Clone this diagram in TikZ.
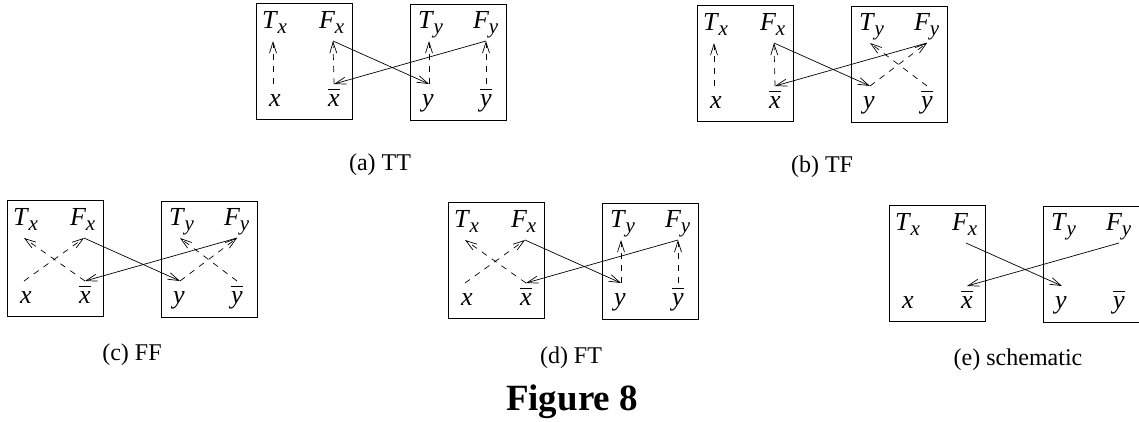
\documentclass[tikz,border=0pt]{standalone}
\usepackage{fontspec}
\setmainfont{Liberation Serif}[ItalicFont={Liberation Serif Italic},BoldFont={Liberation Serif Bold}]
\usetikzlibrary{arrows.meta}
\newcommand\lbl[2]{\textit{#1}\kern-0.5pt\raisebox{-5pt}{\fontsize{21}{21}\selectfont\textit{#2}}}
\newcommand\ovl[1]{\setbox0=\hbox{#1}\rlap{\raisebox{\dimexpr\ht0+4pt\relax}{\rule{\wd0}{0.9pt}}}\box0}
\tikzset{
  boxnode/.style={draw,line width=0.8pt,anchor=north west,minimum width=96pt,minimum height=116pt,inner sep=0pt},
  lab/.style={inner sep=0pt,anchor=base,font=\fontsize{26}{28}\selectfont},
  captext/.style={inner sep=0pt,anchor=base,font=\fontsize{24}{28}\selectfont},
  sol/.style={line width=0.7pt,-{Straight Barb[length=11pt,width=7pt,line width=0.7pt]}},
  dsh/.style={line width=0.7pt,dash pattern=on 6pt off 6pt,-{Straight Barb[length=11pt,width=7pt,line width=0.7pt]}}
}
\newcommand\panel[1]{%
  \node[boxnode] (#1L) at (0,0) {};
  \node[boxnode] (#1R) at (154,1) {};
  \node[lab,anchor=base west] (#1Tx) at (6,25) {\lbl{T}{x}};
  \node[lab,anchor=base west] (#1Fx) at (63,25) {\lbl{F}{x}};
  \node[lab,anchor=base west] (#1Ty) at (162,25) {\lbl{T}{y}};
  \node[lab,anchor=base west] (#1Fy) at (217,25) {\lbl{F}{y}};
  \node[lab] (#1x) at (19,103) {\textit{x}};
  \node[lab] (#1xb) at (78,103) {\ovl{\textit{x}}};
  \node[lab] (#1y) at (172,103) {\textit{y}};
  \node[lab] (#1yb) at (230,103) {\ovl{\textit{y}}};
  \coordinate (#1a) at (17,38);
  \coordinate (#1b) at (77,38);
  \coordinate (#1c) at (173,38);
  \coordinate (#1d) at (230,38);
  \coordinate (#1e) at (17,81);
  \coordinate (#1f) at (78,81);
  \coordinate (#1g) at (173,81);
  \coordinate (#1h) at (230,81);
  \draw[sol] (#1b) -- (#1g);
  \draw[sol] (#1d) -- (#1f);
}
\begin{document}
\begin{tikzpicture}[x=1pt,y=-1pt]
\useasboundingbox (0,0) rectangle (1139,421);
% (a) TT
\begin{scope}[shift={(256,3)}]
  \panel{a}
  \draw[dsh] (ae) -- (aa); \draw[dsh] (af) -- (ab);
  \draw[dsh] (ag) -- (ac); \draw[dsh] (ah) -- (ad);
\end{scope}
% (b) TF
\begin{scope}[shift={(697,5)}]
  \panel{b}
  \draw[dsh] (be) -- (ba); \draw[dsh] (bf) -- (bb);
  \draw[dsh] (bg) -- (bd); \draw[dsh] (bh) -- (bc);
\end{scope}
% (c) FF
\begin{scope}[shift={(7,200)}]
  \panel{c}
  \draw[dsh] (ce) -- (cb); \draw[dsh] (cf) -- (ca);
  \draw[dsh] (cg) -- (cd); \draw[dsh] (ch) -- (cc);
\end{scope}
% (d) FT
\begin{scope}[shift={(448,202)}]
  \panel{d}
  \draw[dsh] (de) -- (db); \draw[dsh] (df) -- (da);
  \draw[dsh] (dg) -- (dc); \draw[dsh] (dh) -- (dd);
\end{scope}
% (e) schematic
\begin{scope}[shift={(889,205)}]
  \panel{e}
\end{scope}
\node[captext] (capa) at (380,170) {(a) TT};
\node[captext] (capb) at (822,172) {(b) TF};
\node[captext] (capc) at (132,360) {(c) FF};
\node[captext] (capd) at (571,363) {(d) FT};
\node[captext] (cape) at (1018,365) {(e) schematic};
\node[inner sep=0pt,anchor=base,font=\fontsize{37}{40}\selectfont\bfseries] (fig) at (572,410) {Figure 8};
\end{tikzpicture}
\end{document}
